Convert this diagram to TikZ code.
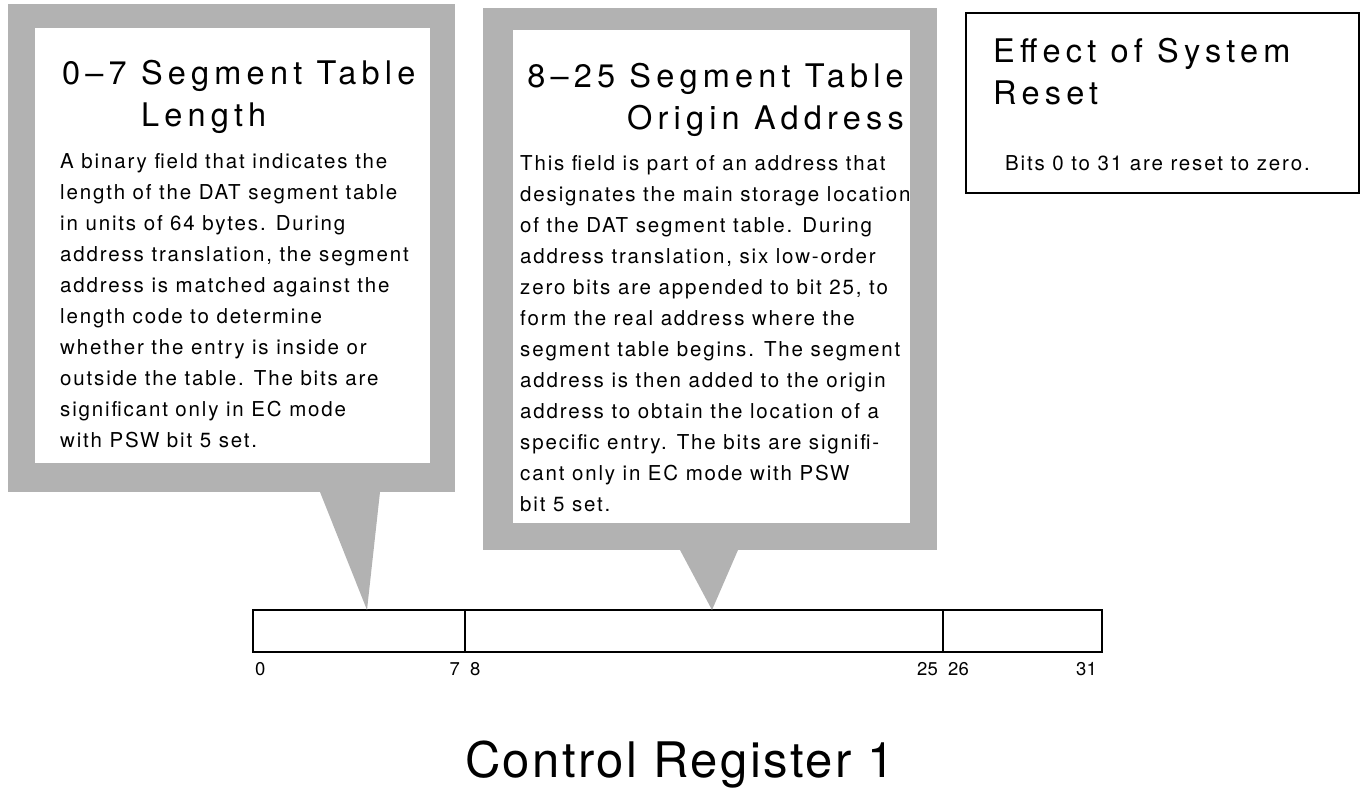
\documentclass[tikz,border=0pt]{standalone}
\usepackage{fontspec}
\setmainfont{TeX Gyre Heros}
\usetikzlibrary{positioning, calc}

\begin{document}
\begin{tikzpicture}
        [
            x=1pt, y=-1pt,
            screen/.style={fill=black!30, inner sep=0pt, outer sep=0pt},
            card/.style={fill=white, inner sep=0pt, outer sep=0pt, anchor=north west},
            head/.style={font=\fontsize{32.5}{42}\selectfont\addfontfeature{LetterSpace=16},
                         inner sep=0pt},
            body/.style={font=\fontsize{20.5}{31}\selectfont\addfontfeature{LetterSpace=9},
                         align=left, inner sep=0pt, anchor=north west},
            field/.style={draw, line width=2.4pt, minimum height=42pt, inner sep=0pt,
                          outer sep=0pt, anchor=north west},
            bit/.style={font=\fontsize{18.5}{20}\selectfont, inner sep=0pt}
        ]
        \useasboundingbox (0,0) rectangle (1364,794);
        % register fields
        \node (f1) [field, minimum width=212pt] at (253,610) {};
        \node (f2) [field, minimum width=478pt] at (f1.north east) {};
        \node (f3) [field, minimum width=159pt] at (f2.north east) {};
        \coordinate (tip1) at ($(f1.north west)+(114,0)$);
        \coordinate (tip2) at ($(f2.north west)+(247,0)$);
        % callouts
        \node (c1) [screen, anchor=north west, minimum width=447pt, minimum height=488pt] at (8,4) {};
        \node (w1) [card, minimum width=395pt, minimum height=435pt] at (35,28) {};
        \fill [black!30] ($(c1.south west)+(312,0)$) -- ($(c1.south west)+(372,0)$) -- (tip1) -- cycle;
        \node (c2) [screen, anchor=north west, minimum width=454pt, minimum height=542pt] at (483,8) {};
        \node (w2) [card, minimum width=397pt, minimum height=493pt] at (513,30) {};
        \fill [black!30] ($(c2.south west)+(197,0)$) -- ($(c2.south west)+(255,0)$) -- (tip2) -- cycle;
        \node (r) [draw, line width=2pt, anchor=north west, minimum width=393pt,
                   minimum height=180pt] at (965,12) {};
        % texts
        \node (h1) [head, align=left, anchor=north west] at (62,60)
            {0–7 Segment Table\\\phantom{0–7 }Length};
        \node (t1) [body] at (60,153)
            {A binary field that indicates the\\
             length of the DAT segment table\\
             in units of 64 bytes. During\\
             address translation, the segment\\
             address is matched against the\\
             length code to determine\\
             whether the entry is inside or\\
             outside the table. The bits are\\
             significant only in EC mode\\
             with PSW bit 5 set.};
        \node (h2) [head, align=right, anchor=north east] at (904,63)
            {8–25 Segment Table\\Origin Address};
        \node (t2) [body] at (520,155)
            {This field is part of an address that\\
             designates the main storage location\\
             of the DAT segment table. During\\
             address translation, six low-order\\
             zero bits are appended to bit 25, to\\
             form the real address where the\\
             segment table begins. The segment\\
             address is then added to the origin\\
             address to obtain the location of a\\
             specific entry. The bits are signifi-\\
             cant only in EC mode with PSW\\
             bit 5 set.};
        \node (h3) [head, align=left, anchor=north west] at (993,38)
            {Effect of System\\Reset};
        \node (t3) [body] at (1005,155) {Bits 0 to 31 are reset to zero.};
        % bit numbers
        \node (n0) [bit, below right=10pt and 2pt of f1.south west] {0};
        \node (n7) [bit, below left=10pt and 5pt of f1.south east] {7};
        \node (n8) [bit, below right=10pt and 5pt of f2.south west] {8};
        \node (n25) [bit, below left=10pt and 5pt of f2.south east] {25};
        \node (n26) [bit, below right=10pt and 5pt of f3.south west] {26};
        \node (n31) [bit, below left=10pt and 5pt of f3.south east] {31};
        \node (title) [font=\fontsize{49}{55}\selectfont\addfontfeature{LetterSpace=5}, anchor=base]
            at (680,777) {Control Register 1};
    \end{tikzpicture}
\end{document}
